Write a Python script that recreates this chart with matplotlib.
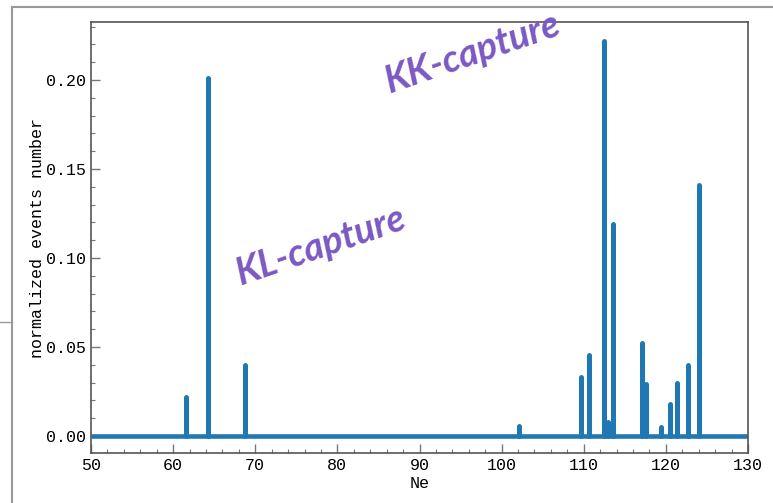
import matplotlib
matplotlib.use("Agg")
import matplotlib.pyplot as plt
from matplotlib.lines import Line2D
from matplotlib.ticker import MultipleLocator, FormatStrFormatter

# data: peak positions (Ne) and normalized heights
peak_ne = [61.6, 64.2, 68.8, 102.1, 109.7, 110.6, 112.5, 112.9, 113.6,
           117.1, 117.6, 119.4, 120.5, 121.4, 122.75, 124.0]
peak_h = [0.022, 0.201, 0.040, 0.0058, 0.0333, 0.0453, 0.222, 0.008, 0.119,
          0.0524, 0.029, 0.0052, 0.0178, 0.0298, 0.040, 0.141]
x_range = [50, 130]
y_range = [-0.0096, 0.2326]
annotations = ["KL-capture", "KK-capture"]

plt.rcParams['font.family'] = ['Liberation Mono', 'DejaVu Sans Mono']
color = '#1f77b4'

fig = plt.figure(figsize=(7.73, 5.03), dpi=100)
ax = fig.add_axes([91/773, 50/503, (748-91)/773, (453-22)/503])

ax.axhline(0, color=color, lw=3.3, solid_capstyle='butt', zorder=2)
ax.vlines(peak_ne, 0, peak_h, color=color, lw=3.6, capstyle='round', zorder=3)

ax.set_xlim(*x_range)
ax.set_ylim(*y_range)
ax.xaxis.set_major_locator(MultipleLocator(10))
ax.xaxis.set_minor_locator(MultipleLocator(2))
ax.yaxis.set_major_locator(MultipleLocator(0.05))
ax.yaxis.set_minor_locator(MultipleLocator(0.01))
ax.yaxis.set_major_formatter(FormatStrFormatter('%.2f'))
ax.tick_params(which='both', direction='in', colors='#777', labelcolor='black', labelsize=12)
ax.tick_params(which='major', length=6.5, width=1)
ax.tick_params(which='minor', length=3.2, width=0.8)
for s in ax.spines.values():
    s.set_color('#555')
    s.set_linewidth(1.2)

ax.set_xlabel('Ne', fontsize=12, labelpad=2)
ax.set_ylabel('normalized events number', fontsize=12, labelpad=1)

purple = '#7b59c4'
ax.text(0.213, 0.39, annotations[0], transform=ax.transAxes, color=purple,
        fontsize=27, family='Lato', style='italic', weight='bold', rotation=19,
        ha='left', va='baseline')
ax.text(0.44, 0.835, annotations[1], transform=ax.transAxes, color=purple,
        fontsize=27, family='Lato', style='italic', weight='bold', rotation=19,
        ha='left', va='baseline')

# outer frame (screenshot border)
fig.add_artist(Line2D([12/773, 12/773], [0, 1-7/503], transform=fig.transFigure, color='#999', lw=1.5))
fig.add_artist(Line2D([12/773, 1], [1-7/503, 1-7/503], transform=fig.transFigure, color='#999', lw=1.5))
fig.add_artist(Line2D([0, 12/773], [1-322/503, 1-322/503], transform=fig.transFigure, color='#999', lw=1.0))

fig.savefig('out.png', dpi=100)
